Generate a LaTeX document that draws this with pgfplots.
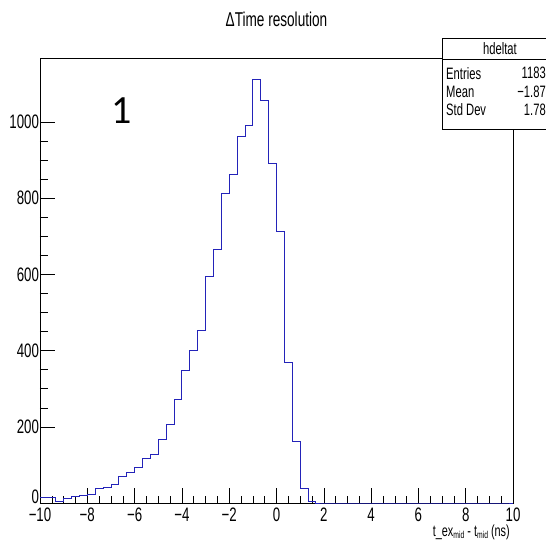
\documentclass[border=0pt]{standalone}
\usepackage{graphicx}
\usepackage{fontspec}
\setmainfont{Liberation Sans}
\newfontfamily\carlito{Carlito}
\usepackage{pgfplots}
\usepackage{pgfplotstable}
\pgfplotsset{compat=1.18}
\definecolor{histblue}{RGB}{35,35,185}
\newcommand{\cond}[1]{\scalebox{0.68}[1]{#1}}
\pgfplotstableread{
x y
-10 15
-9.6667 14
-9.3333 5
-9 11
-8.6667 18
-8.3333 21
-8 23
-7.6667 38
-7.3333 41
-7 49
-6.6667 69
-6.3333 81
-6 93
-5.6667 118
-5.3333 128
-5 166
-4.6667 205
-4.3333 273
-4 349
-3.6667 401
-3.3333 454
-3 594
-2.6667 666
-2.3333 813
-2 863
-1.6667 961
-1.3333 991
-1 1112
-0.6667 1056
-0.3333 891
0 714
0.3333 368
0.6667 161
1 38
1.3333 5
1.6667 0
2 0
2.3333 0
2.6667 0
3 0
3.3333 0
3.6667 0
4 0
4.3333 0
4.6667 0
5 0
5.3333 0
5.6667 0
6 0
6.3333 0
6.6667 0
7 0
7.3333 0
7.6667 0
8 0
8.3333 0
8.6667 0
9 0
9.3333 0
9.6667 0
10 0
}\histdata
\begin{document}
\begin{tikzpicture}[x=1pt,y=1pt]
\useasboundingbox (-40,-38) rectangle (506,503);
\begin{axis}[
  at={(0,0)}, anchor=south west,
  scale only axis, width=473pt, height=445pt,
  xmin=-10, xmax=10, ymin=0, ymax=1168,
  axis line style={black, line width=0.6pt},
  tick align=inside, tick pos=left,
  xtick={-10,-8,-6,-4,-2,0,2,4,6,8,10},
  xticklabels={\cond{−10},\cond{−8},\cond{−6},\cond{−4},\cond{−2},\cond{0},\cond{2},\cond{4},\cond{6},\cond{8},\cond{10}},
  ytick={200,400,600,800,1000},
  yticklabels={\cond{200},\cond{400},\cond{600},\cond{800},\cond{1000}},
  extra y ticks={0},
  extra y tick labels={\cond{0}},
  extra y tick style={yticklabel style={yshift=6pt}},
  minor x tick num=3, minor y tick num=3,
  major tick length=15pt, minor tick length=7.5pt,
  tick style={black, line width=0.5pt},
  tick label style={font=\fontsize{19.5}{21}\selectfont},
  xticklabel style={inner sep=2pt, yshift=-3pt},
  yticklabel style={xshift=2.5pt},
]
\addplot[const plot mark left, color=histblue, line width=0.9pt] table[x=x,y=y] {\histdata};
\end{axis}
% title
\node[anchor=base] at (236.5,476) {\fontsize{20}{22}\selectfont\cond{ΔTime resolution}};
% x label
\node[anchor=base east, inner sep=0pt] at (470,-33.5) {\fontsize{16}{17}\selectfont\cond{t\_ex\raisebox{-2pt}{\fontsize{10}{10}\selectfont mid} - t\raisebox{-2pt}{\fontsize{10}{10}\selectfont mid} (ns)}};
% label 1
\node[inner sep=0pt] at (82,392) {\carlito\fontsize{40}{40}\selectfont 1};
% stats box
\draw[fill=white, draw=black, line width=0.6pt] (402,374) rectangle (540,464.7);
\draw[black, line width=0.6pt] (402,443.7) -- (540,443.7);
\node[anchor=center, inner sep=0pt] at (460,454.7) {\fontsize{16.5}{18}\selectfont\cond{hdeltat}};
\node[anchor=west, inner sep=0pt] at (406,429.7) {\fontsize{16.5}{18}\selectfont\cond{Entries}};
\node[anchor=west, inner sep=0pt] at (406,411.3) {\fontsize{16.5}{18}\selectfont\cond{Mean}};
\node[anchor=west, inner sep=0pt] at (406,393) {\fontsize{16.5}{18}\selectfont\cond{Std Dev}};
\node[anchor=east, inner sep=0pt] at (506,429.7) {\fontsize{16.5}{18}\selectfont\cond{1183}};
\node[anchor=east, inner sep=0pt] at (506,411.3) {\fontsize{16.5}{18}\selectfont\cond{−1.87}};
\node[anchor=east, inner sep=0pt] at (506,393) {\fontsize{16.5}{18}\selectfont\cond{1.78}};
\end{tikzpicture}
\end{document}
